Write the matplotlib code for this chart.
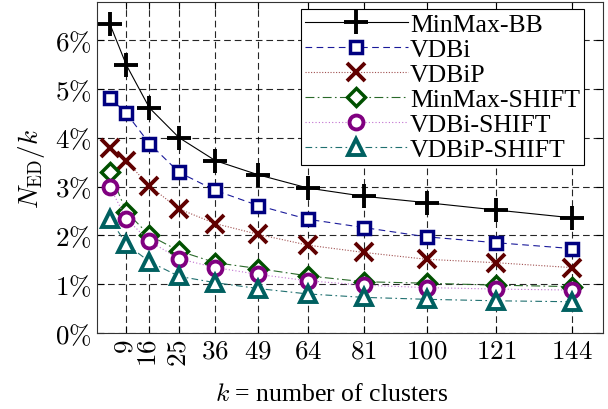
import matplotlib
matplotlib.use("Agg")
import matplotlib.pyplot as plt

plt.rcParams['font.family'] = ['Liberation Serif', 'DejaVu Serif']
plt.rcParams['mathtext.fontset'] = 'cm'

# data (N_ED / k in %)
k = [4, 9, 16, 25, 36, 49, 64, 81, 100, 121, 144]
minmax_bb = [6.33, 5.49, 4.61, 4.00, 3.53, 3.24, 2.97, 2.80, 2.67, 2.52, 2.36]
vdbi = [4.82, 4.50, 3.88, 3.29, 2.92, 2.61, 2.33, 2.16, 1.97, 1.85, 1.73]
vdbip = [3.79, 3.52, 3.01, 2.54, 2.24, 2.02, 1.80, 1.65, 1.51, 1.44, 1.34]
minmax_shift = [3.30, 2.48, 2.00, 1.68, 1.44, 1.32, 1.17, 1.05, 1.02, 0.98, 0.95]
vdbi_shift = [2.99, 2.34, 1.88, 1.52, 1.34, 1.20, 1.07, 0.98, 0.93, 0.90, 0.88]
vdbip_shift = [2.34, 1.82, 1.46, 1.16, 1.03, 0.91, 0.80, 0.73, 0.69, 0.66, 0.64]

xticks = [9, 16, 25, 36, 49, 64, 81, 100, 121, 144]
yticks = [0, 1, 2, 3, 4, 5, 6]

fig = plt.figure(figsize=(6.08, 4.10), dpi=100)
ax = fig.add_axes([97/608, (410-334)/410, (603-97)/608, (334-3)/410])

# series
ax.plot(k, minmax_bb, color='black', lw=0.8, ls='-', marker='+', ms=17, mew=2.8,
        label='MinMax-BB')
ax.plot(k, vdbi, color='#1a1a9a', lw=0.8, ls=(0, (6, 4)), marker='s', ms=9, mew=2.5,
        mfc='white', mec='#000080', label='VDBi')
ax.plot(k, vdbip, color='#a05050', lw=0.8, ls=(0, (1, 1.5)), marker='x', ms=13, mew=2.8,
        mec='#600000', label='VDBiP')
ax.plot(k, minmax_shift, color='#2a6a2a', lw=0.8, ls=(0, (8, 3, 1.5, 3)), marker='D', ms=9,
        mew=2.5, mfc='white', mec='#005000', label='MinMax-SHIFT')
ax.plot(k, vdbi_shift, color='#c070d0', lw=0.8, ls=(0, (1, 2)), marker='o', ms=10, mew=2.8,
        mfc='white', mec='#800080', label='VDBi-SHIFT')
ax.plot(k, vdbip_shift, color='#207070', lw=0.8, ls=(0, (6, 3, 1.5, 3)), marker='^', ms=12,
        mew=2.8, mfc='white', mec='#006060', label='VDBiP-SHIFT')

ax.set_xlim(0.1, 153.5)
ax.set_ylim(0, 6.78)

ax.set_xticks(xticks)
ax.set_xticklabels([f'${t}$' for t in xticks], fontsize=19.5)
for lab, t in zip(ax.get_xticklabels(), xticks):
    if t < 30:
        lab.set_rotation(90)
ax.set_yticks(yticks)
ax.set_yticklabels([f'${t}\\%$' for t in yticks], fontsize=19.5)

ax.tick_params(direction='in', length=5, width=0.8, top=True, right=True, pad=4)
ax.grid(True, color='black', ls=(0, (6, 3.5)), lw=0.8, alpha=0.85)
ax.set_axisbelow(True)
for s in ax.spines.values():
    s.set_linewidth(0.8)
    s.set_color('#333333')

ax.set_xlabel(r'$k$ = number of clusters', fontsize=18.5)
ax.xaxis.set_label_coords(0.464, -0.15)
ax.set_ylabel(r'$N_{\mathrm{ED}}/k$', fontsize=19.5, labelpad=6)

leg = ax.legend(loc='upper right', bbox_to_anchor=(487/506, 1 - 7/331), fontsize=18.5,
                numpoints=1, handlelength=4.0, handletextpad=0.1, labelspacing=0.08,
                borderpad=0.15, borderaxespad=0, fancybox=False, framealpha=1,
                edgecolor='black')
leg.get_frame().set_linewidth(0.8)

fig.savefig('out.png', dpi=100)
